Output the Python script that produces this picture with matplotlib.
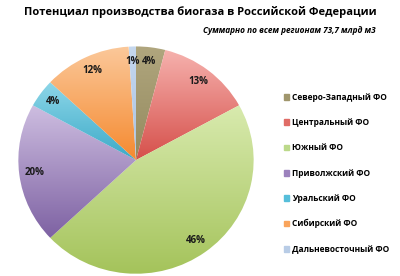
import numpy as np
import matplotlib.pyplot as plt
from matplotlib.colors import to_rgb

plt.rcParams['font.family'] = ['Open Sans', 'DejaVu Sans']

regions = ['Северо-Западный ФО', 'Центральный ФО', 'Южный ФО', 'Приволжский ФО',
           'Уральский ФО', 'Сибирский ФО', 'Дальневосточный ФО']
shares = [4, 13, 46, 20, 4, 12, 1]
# light (top) and dark (bottom) colour of each wedge gradient
light = ['#B0A67E', '#F6B2AE', '#D8EAAE', '#CDBDE0', '#8DD6E8', '#FBC89A', '#C6D8EE']
dark = ['#948A5E', '#D6504B', '#A4C35A', '#7E62A3', '#3CAAC8', '#F58A30', '#A9C2E3']
legend_col = ['#A0966C', '#E06C66', '#BCD98A', '#9C82BD', '#56BEDA', '#F9A45C', '#B8CCE6']

fig = plt.figure(figsize=(4.0, 2.76), dpi=100)
ax = fig.add_axes([0.04, 0.0, 0.6, 0.84])

wedges, texts, autotexts = ax.pie(shares, startangle=90, counterclock=False,
                                  autopct='%d%%', pctdistance=0.87,
                                  textprops=dict(fontsize=7, fontweight='bold', color='#1a1a1a'))
ax.set_aspect('equal')
ax.set_xlim(-1.02, 1.02)
ax.set_ylim(-1.02, 1.02)

# vertical gradient inside each wedge
for w, c1, c2 in zip(wedges, light, dark):
    w.set_facecolor('none')
    verts = w.get_path().vertices
    x0, x1 = verts[:, 0].min(), verts[:, 0].max()
    y0, y1 = verts[:, 1].min(), verts[:, 1].max()
    t = np.linspace(0, 1, 64)[:, None]
    grad = (1 - t) * np.array(to_rgb(c2)) + t * np.array(to_rgb(c1))
    grad = grad[:, None, :]
    im = ax.imshow(grad, extent=[x0, x1, y0, y1], origin='lower', aspect='auto',
                   interpolation='bilinear', zorder=1)
    im.set_clip_path(w)
for txt in autotexts:
    txt.set_zorder(3)

fig.text(0.5, 0.955, 'Потенциал производства биогаза в Российской Федерации',
         ha='center', va='center', fontsize=8.0, fontweight='bold')
fig.text(0.938, 0.89, 'Суммарно по всем регионам 73,7 млрд м3',
         ha='right', va='center', fontsize=5.95, fontweight='bold', style='italic')

handles = [plt.Rectangle((0, 0), 1, 1, color=c) for c in legend_col]
fig.legend(handles, regions, loc='center left', bbox_to_anchor=(0.69, 0.372),
           frameon=False, handlelength=0.7, handleheight=0.7,
           handletextpad=0.3, labelspacing=1.95,
           prop=dict(size=6.0, weight='bold'))

fig.savefig('out.png', dpi=100)
